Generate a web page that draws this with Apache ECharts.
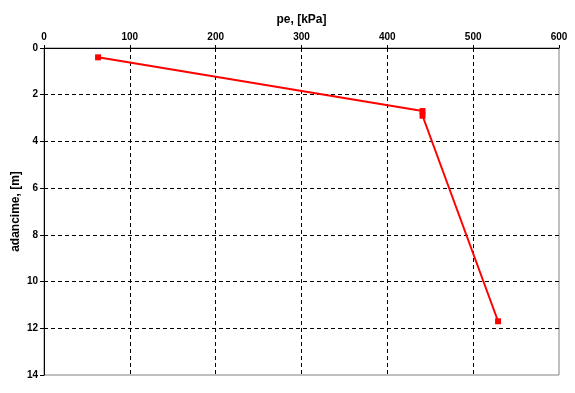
<!DOCTYPE html>
<html><head><meta charset="utf-8">
<script src="https://cdn.jsdelivr.net/npm/echarts@6/dist/echarts.min.js"></script>
<style>html,body{margin:0;padding:0;background:#fff}#c{width:575px;height:393px}</style>
</head><body><div id="c"></div>
<script>
const pressure = [63, 441, 441, 529];
const depth = [0.4, 2.7, 2.9, 11.7];
const xName = 'pe, [kPa]';
const yName = 'adancime, [m]';
const font = "'Liberation Sans Narrow', 'Liberation Sans', Arial, sans-serif";

const chart = echarts.init(document.getElementById('c'));
chart.setOption({
  animation: false,
  grid: {left: 44, top: 48, right: 16, bottom: 18, show: true, borderColor: '#808080', borderWidth: 1,
         containLabel: false, outerBoundsMode: 'none'},
  xAxis: {
    type: 'value', position: 'top', min: 0, max: 600, interval: 100,
    name: xName, nameLocation: 'middle', nameGap: 22, nameMoveOverlap: false,
    nameTextStyle: {fontFamily: font, fontWeight: 'bold', fontSize: 12, color: '#000'},
    axisLine: {show: true, lineStyle: {color: '#000', width: 1}},
    axisTick: {show: true, length: 3, lineStyle: {color: '#000'}},
    axisLabel: {fontFamily: font, fontWeight: 'bold', fontSize: 10, color: '#000', margin: 6},
    splitLine: {show: true, showMinLine: false, showMaxLine: false, lineStyle: {color: '#000', type: [4, 3], width: 1}}
  },
  yAxis: {
    type: 'value', inverse: true, min: 0, max: 14, interval: 2,
    name: yName, nameLocation: 'middle', nameGap: 22, nameMoveOverlap: false,
    nameTextStyle: {fontFamily: font, fontWeight: 'bold', fontSize: 12, color: '#000'},
    axisLine: {show: true, lineStyle: {color: '#000', width: 1}},
    axisTick: {show: true, length: 4, lineStyle: {color: '#000'}},
    axisLabel: {fontFamily: font, fontWeight: 'bold', fontSize: 10, color: '#000', margin: 6},
    splitLine: {show: true, showMinLine: false, showMaxLine: false, lineStyle: {color: '#000', type: [4, 3], width: 1}}
  },
  series: [{
    type: 'line',
    data: pressure.map((p, i) => [p, depth[i]]),
    symbol: 'rect', symbolSize: 6,
    itemStyle: {color: '#ff0000'},
    lineStyle: {color: '#ff0000', width: 2}
  }]
});
</script></body></html>
